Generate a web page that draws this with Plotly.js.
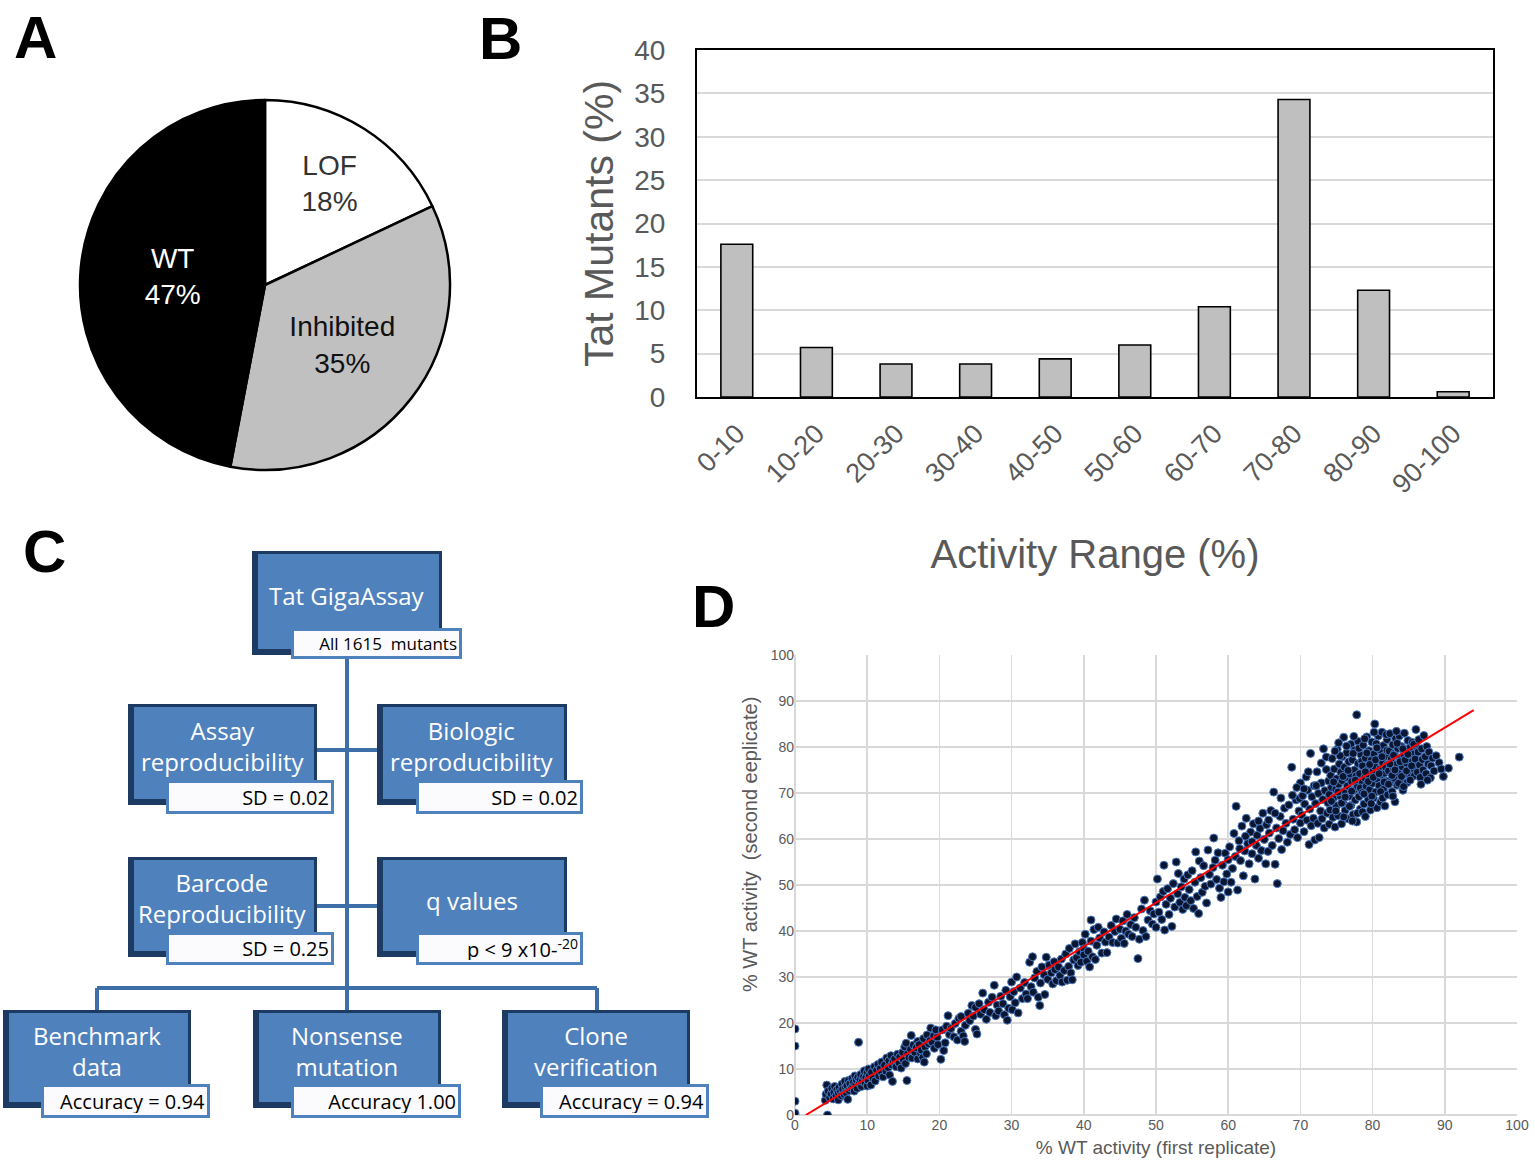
<!DOCTYPE html>
<html>
<head>
<meta charset="utf-8">
<script src="https://cdn.plot.ly/plotly-3.0.1.min.js"></script>
<style>
  html, body { margin: 0; padding: 0; background: #fff; }
  #plot { width: 1535px; height: 1169px; }
</style>
</head>
<body>
<div id="plot"></div>
<script>
// Panel A - mutant classes (%)
const pieLabels = ['LOF', 'Inhibited', 'WT'];
const pieValues = [18, 35, 47];

// Panel B - distribution of activity
const activityRanges = ['0-10', '10-20', '20-30', '30-40', '40-50', '50-60', '60-70', '70-80', '80-90', '90-100'];
const mutantPercent = [17.6, 5.7, 3.8, 3.8, 4.4, 6.0, 10.4, 34.3, 12.3, 0.6];

// Panel C - validation tree
const nodeTitles = ['Tat GigaAssay', 'Assay<br>reproducibility', 'Biologic<br>reproducibility',
  'Barcode<br>Reproducibility', 'q values', 'Benchmark<br>data', 'Nonsense<br>mutation', 'Clone<br>verification'];
const nodeNotes = ['All 1615  mutants', 'SD = 0.02', 'SD = 0.02', 'SD = 0.25', 'p < 9 x10-<sup>-20</sup>',
  'Accuracy = 0.94', 'Accuracy 1.00', 'Accuracy = 0.94'];

// Panel D - replicate 1 vs replicate 2 (% WT activity)
const replicatePairs = [
  [0,0],[0,0.4],[0,3],[0,15],[0,18.7],[4.5,0],[8.8,15.8],
  [4.2,3.2],[4.3,4.5],[4.4,6.5],[4.6,5.2],[4.8,3.8],[5,4.6],[5.1,5.8],[5.3,3.5],[5.4,4.9],[5.5,6.2],
  [5.7,4.2],[5.8,5.5],[6,3.3],[6,4.8],[6.1,6],[6.3,5.1],[6.4,4.2],[6.5,6.7],[6.6,5.6],[6.8,4.5],
  [6.9,7.3],[7,5.9],[7.1,4.8],[7.2,6.4],[7.3,3.4],[7.4,7.5],[7.5,5.3],[7.6,6.8],[7.8,5.8],[7.9,7.9],
  [8,6.3],[8.1,7.1],[8.2,5.2],[8.3,8.5],[8.4,6.7],[8.5,7.6],[8.6,5.8],[8.7,8.2],[8.9,6.9],[9,7.7],
  [9.1,8.8],[9.2,6.2],[9.3,7.3],[9.5,8.4],[9.6,9.6],[9.7,7],[9.8,8.1],[10,9.2],[10,6.3],[10.1,7.6],
  [10.2,10],[10.3,8.6],
  [10.5,6.5],[10.6,9.3],[10.8,8],[11,10.5],[11.1,7.4],[11.3,9.7],[11.5,11],[11.6,8.5],[11.8,10.1],
  [12,9.2],[12,11.5],[12.2,8.3],[12.4,10.8],[12.6,9.5],[12.7,12.4],[12.9,10.3],[13,11.8],[13.1,8.7],
  [13.3,12.9],[13.4,10.9],[13.5,7.3],[13.6,11.6],[13.8,12.2],[14,10.5],[14.2,13.2],[14.4,11.3],
  [14.5,12.6],[14.7,10.2],[14.9,13.6],[15,12],[15.2,14.8],[15.3,11.2],[15.4,15.6],[15.5,7.5],
  [15.6,13.3],[15.8,12.5],[16,14.3],[16.1,17.3],[16.2,12.4],[16.4,15.2],[16.6,13.6],[16.8,14.6],
  [17,12.2],[17,16],[17.2,15.3],[17.4,13.4],[17.5,14.1],[17.7,12.5],[17.8,16.6],[17.9,11.5],
  [18,14.8],[18.2,13.3],[18.3,17.4],[18.5,15.5],[18.7,16.2],[18.8,18.9],[19,15.8],[19.2,17.2],
  [19.3,14.5],[19.5,18.5],[19.7,16.9],[19.8,15.3],
  [20.2,12.1],[20.4,18.5],[20.6,14],[20.8,15.7],[21,19.3],[21.2,21.6],[21.4,17.5],[21.6,18.8],
  [22,17],[22.2,19.9],[22.5,16.3],[22.7,21],[23,18.2],[23,21.4],[23.3,17.2],[23.5,16],[23.6,19.5],
  [24,22.1],[24.2,20.5],[24.5,23.8],[24.7,21.5],[25,18.6],[25,23.4],[25.2,17.6],[25.5,24.2],
  [25.7,21.9],[26,26.5],[26.2,22.9],[26.5,20.8],[26.8,24.5],[27,22.3],[27.3,25.6],[27.6,28.2],
  [27.8,21.6],[28,23.9],[28.2,22.6],[28.5,25.8],[28.8,24.2],[29,21.8],[29.2,27.1],[29.4,20.6],
  [29.6,23.2],[29.8,25.7],[30,28.9],[30.1,22.9],
  [30.3,26.8],[30.5,24.4],[30.7,30],[30.9,22.2],[31.2,27.6],[31.5,25.3],[31.8,28.8],[32,26.3],
  [32.2,25.3],[32.5,33.2],[32.7,27.9],[32.9,34.4],[33,26.7],[33.2,29.8],[33.5,31.2],[33.7,25.6],
  [33.9,23.8],[34,28.7],[34.2,32.2],[34.5,30.5],[34.6,26.2],[34.8,34.3],[35,29.5],[35.2,32.6],
  [35.5,30.9],[35.7,28.5],[35.9,33.3],[36,31.6],[36.2,29.2],[36.5,32.2],[36.7,30.3],[36.9,33.9],
  [37,28.9],[37.3,31.4],[37.5,35],[37.7,29.3],[37.9,32.3],[38,36.2],[38.2,30.9],[38.4,29.4],
  [38.6,33.7],[38.8,37.2],[39,34.2],[39.2,32.5],[39.4,35.5],[39.6,33.2],[39.8,37.5],[40,36.1],
  [40,34.8],
  [40.2,39.3],[40.4,33.4],[40.6,35.6],[40.8,32.2],[41,42.4],[41,37.8],[41.2,34.4],[41.4,40.3],
  [41.6,33.8],[41.8,36.9],[42,40.8],[42.2,38.5],[42.5,35.2],[42.8,39.8],[43,37.6],[43.2,35.3],
  [43.5,38.7],[43.8,41.2],[44,37.5],[44.3,39.9],[44.5,42.6],[44.7,37.4],[45,40.4],[45.2,38.4],
  [45.4,42.2],[45.6,37.3],[45.8,40],[46,43.6],[46.2,39.3],[46.5,41.4],[46.7,38.8],[47,42.9],
  [47.2,40.8],[47.5,34],[47.7,38.2],[48,44.8],[48.2,40.1],[48.4,46.7],[48.6,38.8],[48.9,42.4],
  [49.2,44.4],[49.5,41.5],[49.7,43.7],[50,46.3],[50,40.8],[50.2,51.3],
  [50.4,44.1],[50.6,47.4],[50.8,42.5],[51,48.6],[51.1,54.3],[51.2,40.2],[51.4,45.8],[51.6,49.2],
  [51.8,43.6],[52,47.1],[52.2,41],[52.4,50.3],[52.6,45.2],[52.8,55],[53,48.1],[53.1,52.5],
  [53.3,46.2],[53.5,49.6],[53.7,44.7],[53.9,51.3],[54,47.3],[54.2,45.5],[54.4,52.2],[54.6,49],
  [54.8,46.6],[55,53.1],[55.2,44.9],[55.4,50.6],[55.5,57.2],[55.7,47.5],[55.9,43.8],[56,55.2],
  [56.2,51.6],[56.4,48.4],[56.6,54.2],[56.8,49.7],[57,46.1],[57.2,57.6],[57.4,52.3],[57.6,50.2],
  [57.9,53.8],[58,60.2],[58.2,55.4],[58.4,51.2],[58.6,57],[58.8,49.3],[59,47.3],[59.2,54.3],
  [59.4,50.7],[59.6,56.9],[59.8,52.4],[60,55.5],[60,48.5],
  [60.2,58.3],[60.4,50.6],[60.6,53.6],[60.8,61.2],[61,56.2],[61.1,67.1],[61.3,48.9],[61.5,59.6],
  [61.7,55.3],[61.9,62.8],[62.1,52],[62.3,57.4],[62.5,64.5],[62.7,59],[62.9,54.6],[63.1,61.5],
  [63.3,56.8],[63.5,63.3],[63.7,51.3],[63.9,58.6],[64,60.8],[64.2,55.8],[64.4,62.3],[64.6,57.5],
  [64.8,65.6],[65,59.9],[65.2,54.6],[65.3,63.1],[65.5,57.3],[65.7,61.3],[65.9,66.2],[66.1,58.6],
  [66.3,70.2],[66.5,54.5],[66.7,62.4],[66.8,50.3],[67,60.1],[67.2,64.9],[67.4,57.7],[67.6,61.8],
  [67.8,66.7],[68,63.4],[68.2,59.3],[68.4,67.4],[68.6,61],[68.8,75.6],[69,64.3],[69.2,62],
  [69.4,68.5],[69.6,60.3],[69.8,66.1],[70,72.2],[70,63.5],
  [61.6,57.9],[62.4,60.6],[63.3,59.4],[64.2,63.9],[65.6,64.1],[66.5,65.6],[67.3,68.9],[68.9,69.5],
  [69.9,68.8],[69.5,71.2],
  [70.2,65.2],[70.3,69.4],[70.5,61.6],[70.6,67.6],[70.8,73.5],[70.9,64.1],[71,70.6],[71.2,58.8],
  [71.3,66.5],[71.4,78.6],[71.5,62.9],[71.6,69.2],[71.8,64.5],[71.9,71.6],[72,59.8],[72.1,67.7],
  [72.3,74.6],[72.4,63.4],[72.5,69.9],[72.6,60.3],[72.8,66.1],[72.9,72.2],[73,64.4],[73.1,68.6],
  [73.2,79.6],[73.3,62.4],[73.4,70.5],[73.6,75.1],[73.7,65.6],[73.8,67.9],[73.9,72.6],[74,63.2],
  [74,69.7],[70.5,70.9],[71.1,74.6],[72.2,71.6],[72.9,76.5],[73.6,77.8],
  [74.1,66.3],[74.2,73.8],[74.3,71.2],[74.4,77.5],[74.5,64.7],[74.6,68.9],[74.7,75.2],[74.8,62.6],
  [74.9,70.8],[75,73.1],[75,67.2],[75.1,79.5],[75.2,65.1],[75.3,71.9],[75.4,76.3],[75.5,69.4],
  [75.6,74.5],[75.7,63.3],[75.8,72.7],[75.8,77.9],[75.9,68],[76,82.1],[76,70.3],[76.1,75.6],
  [76.2,66.2],[76.3,73.4],[76.4,78.7],[76.5,71.5],[76.6,64.4],[76.7,76.8],[76.8,69.3],[76.9,74.1],
  [77,67.3],[77,80.6],[77.1,72.5],[77.2,77.2],[77.3,65.3],[77.4,70.6],[77.5,75],[77.5,79.3],
  [77.6,68.5],[77.7,73.7],[77.8,87],[77.8,63.7],[77.9,71.4],[78,76.4],[78,81.2],[78.1,69.2],
  [78.2,74.2],[78.3,66.5],[78.4,78.3],[78.5,72.3],
  [74.3,68.2],[74.6,72.4],[74.9,66.1],[75.2,70.2],[75.5,78.1],[75.7,67.8],[75.9,73.6],[76.2,69.1],
  [76.4,80.2],[76.6,74.9],[76.8,67.1],[77.1,70.4],[77.3,78.6],[77.6,72.8],[77.9,65.6],[78.1,79.7],
  [78.3,71.1],[78.5,76.9],[74.8,79.1],[75.3,80.9],[77.4,82.3],[76,64.8],[77.2,63.9],[78.6,65.9],
  [78.6,75.9],[78.6,70.1],[78.7,80.4],[78.8,67.6],[78.9,73.3],[79,77.6],[79,64.9],[79.1,71.5],
  [79.2,82.2],[79.3,75],[79.4,68.6],[79.5,79.2],[79.5,73.9],[79.6,70.7],[79.7,66.3],[79.8,77.1],
  [79.9,81.1],[80,74.6],[80,72.1],[80.1,68.9],[80.2,78.5],[80.3,85],[80.3,75.8],[80.4,70.2],
  [80.5,80.7],[80.6,73.1],[80.6,66.8],[80.7,77.3],[80.8,82.4],[80.9,71.6],[81,75.2],[81,79.4],
  [81.1,68],[81.2,73.9],[81.3,83.2],[81.4,76.6],[81.5,70.8],[81.5,80.3],[81.6,74.3],[81.7,67.2],
  [81.8,78],[81.9,72.6],[82,81.6],[82,76.1],
  [78.8,69.8],[79,74.6],[79.2,78.7],[79.4,72.5],[79.6,76.2],[79.9,69.3],[80.1,73.4],[80.4,77.2],
  [80.6,79.8],[80.9,74.2],[81.1,70.3],[81.3,77.9],[81.6,72.4],[81.8,75.6],[82,79.3],[78.9,81.8],
  [80.2,83.2],[81.9,82.7],[79.8,67.7],[81.4,68.9],
  [82.1,69.6],[82.2,74.8],[82.3,79.1],[82.4,82.9],[82.5,72.3],[82.6,77.4],[82.7,70.3],[82.8,80.5],
  [82.9,75.3],[83,73.2],[83,78.6],[83.1,68.1],[83.2,81.8],[83.3,76.2],[83.4,71.7],[83.5,79.7],
  [83.6,74.4],[83.7,82.4],[83.8,77.5],[83.9,72.8],[84,80.1],[84.1,75.7],[84.2,70.6],[84.3,78.3],
  [84.4,83],[84.5,74.2],[84.6,79.2],[84.7,76.5],[84.8,72.3],[84.9,81.4],[85,77.8],[85.1,74.9],
  [85.2,79.9],[85.3,73.5],[85.4,76.8],[85.5,81],[85.6,75.3],[85.7,78.5],[85.8,73.8],[86,80.2],
  [86,83.8],[86,76.7],
  [82.2,71.9],[82.4,76.3],[82.7,73.8],[82.9,78.2],[83.1,75],[83.4,80.8],[83.6,72.1],[83.8,76.8],
  [84,73.6],[84.2,79.6],[84.5,77.2],[84.7,74.8],[84.9,78.4],[85.2,72.8],[85.4,75.9],[85.7,80.6],
  [85.9,77.4],[82.8,69.3],[84.3,71.4],[83.3,83.4],
  [86.2,74.5],[86.3,78.9],[86.4,81.6],[86.5,76.1],[86.6,73.4],[86.8,79.6],[86.9,77.3],[87,75],
  [87.1,82.5],[87.3,77.9],[87.4,74.2],[87.5,80.1],[87.7,76.3],[87.8,78.9],[88,73.3],[88.1,75.9],
  [88.3,77.6],[88.5,74.8],[88.8,78.1],[89.2,76.6],[89.5,75.2],[89.8,73.6],[90.5,75.4],[92,77.8],
  [86.7,71.9],[87.6,72.8]
];
// fitted trend line (end points)
const trendX = [1.5, 94];
const trendY = [0, 88];

// ---- geometry of the validation tree, in figure pixels ----
// [x0, x1, y0, y1] of each blue box and its white note box, plus the title centre y
const boxRects = [[252,442,551,655],[128,317,704,805],[377,567,704,805],[128,317,857,957],
  [377,567,857,957],[3,191,1010,1108],[253,441,1010,1108],[502,690,1010,1108]];
const noteRects = [[291,462,628,659],[166,334,780,814],[416,583,780,814],[166,334,932,965],
  [416,583,932,965],[41,210,1084,1118],[291,461,1084,1118],[540,709,1084,1118]];
const titleY = [595, 746, 746, 898, 900, 1051, 1051, 1051];
const links = [[347,657,347,1010],[317,750,377,750],[317,906,377,906],[97,988,597,988],
  [97,988,97,1010],[597,988,597,1010]];

const GREY = '#595959';
const ARIAL = 'Liberation Sans, Arial, sans-serif';
const CALIBRI = 'Open Sans, Noto Sans, sans-serif';

const traces = [
  {
    type: 'pie', labels: pieLabels, values: pieValues, sort: false, direction: 'clockwise',
    domain: {x: [80/1535, 450/1535], y: [1 - 470/1169, 1 - 100/1169]},
    marker: {colors: ['#ffffff', '#c0c0c0', '#000000'], line: {color: '#000', width: 2.5}},
    texttemplate: '%{label}<br>%{value}%', textposition: 'inside', insidetextorientation: 'horizontal',
    textfont: {family: ARIAL, size: 28, color: ['#333333', '#111111', '#ffffff']},
    hoverinfo: 'skip'
  },
  {
    type: 'bar', x: activityRanges, y: mutantPercent, xaxis: 'x', yaxis: 'y', width: 0.4,
    marker: {color: '#bfbfbf', line: {color: '#000', width: 1.6}}, hoverinfo: 'skip'
  },
  {
    type: 'scatter', mode: 'markers', xaxis: 'x2', yaxis: 'y2',
    x: replicatePairs.map(p => p[0]), y: replicatePairs.map(p => p[1]),
    marker: {size: 8, color: '#0a1630', line: {color: '#4a78c0', width: 1}}, hoverinfo: 'skip'
  },
  {
    type: 'scatter', mode: 'lines', xaxis: 'x2', yaxis: 'y2', x: trendX, y: trendY,
    line: {color: '#ff0000', width: 2}, hoverinfo: 'skip'
  },
  {type: 'scatter', mode: 'markers', x: [0], y: [0], xaxis: 'x3', yaxis: 'y3',
    marker: {size: 1, opacity: 0}, hoverinfo: 'skip'}
];

const shapes = [];
const annotations = [];

// connectors first so the boxes sit on top of them
links.forEach(l => shapes.push({type: 'line', xref: 'x3', yref: 'y3', x0: l[0], y0: l[1], x1: l[2], y1: l[3],
  line: {color: '#3d6ea8', width: 4}}));

boxRects.forEach((r, i) => {
  shapes.push({type: 'rect', xref: 'x3', yref: 'y3', x0: r[0], x1: r[1], y0: r[2], y1: r[3],
    fillcolor: '#1d3a62', line: {width: 0}});
  shapes.push({type: 'rect', xref: 'x3', yref: 'y3', x0: r[0] + 6, x1: r[1] - 3, y0: r[2] + 3, y1: r[3] - 6,
    fillcolor: '#4f81bd', line: {width: 0}});
  annotations.push({xref: 'x3', yref: 'y3', x: (r[0] + r[1]) / 2, y: titleY[i], text: nodeTitles[i],
    showarrow: false, xanchor: 'center', yanchor: 'middle',
    font: {family: CALIBRI, size: 24, color: '#ffffff'}});
  const n = noteRects[i];
  annotations.push({xref: 'x3', yref: 'y3', x: (n[0] + n[1]) / 2, y: (n[2] + n[3]) / 2, text: nodeNotes[i],
    showarrow: false, xanchor: 'center', yanchor: 'middle', align: 'right', valign: 'middle',
    width: n[1] - n[0] - 10, height: n[3] - n[2] - 10, borderpad: 2, borderwidth: 3,
    bordercolor: '#4f81bd', bgcolor: '#fbfbfd',
    font: {family: CALIBRI, size: i === 0 ? 17 : 20, color: '#000'}});
});

// panel letters
[['A', 35, 37], ['B', 500, 38], ['C', 44, 551], ['D', 713, 606]].forEach(p => annotations.push({
  xref: 'x3', yref: 'y3', x: p[1], y: p[2], text: '<b>' + p[0] + '</b>', showarrow: false,
  xanchor: 'center', yanchor: 'middle', font: {family: ARIAL, size: 60, color: '#000'}}));

// y title of panel D sits above the axis centre in the original
annotations.push({xref: 'x3', yref: 'y3', x: 750, y: 845, text: '% WT activity  (second eeplicate)',
  textangle: -90, showarrow: false, xanchor: 'center', yanchor: 'middle',
  font: {family: ARIAL, size: 20, color: GREY}});

const layout = {
  width: 1535, height: 1169, margin: {l: 0, r: 0, t: 0, b: 0},
  paper_bgcolor: '#ffffff', plot_bgcolor: 'rgba(0,0,0,0)', showlegend: false,
  font: {family: ARIAL, color: GREY},
  xaxis: {
    domain: [697/1535, 1493/1535], anchor: 'y', type: 'category', tickangle: -45,
    tickfont: {size: 27, color: GREY}, showline: true, mirror: true, linecolor: '#000', linewidth: 2,
    ticks: '', ticklabelstandoff: 8,
    title: {text: 'Activity Range (%)', font: {size: 40, color: GREY}, standoff: 42},
    automargin: false, fixedrange: true
  },
  yaxis: {
    domain: [1 - 397/1169, 1 - 50/1169], anchor: 'x', range: [0, 40], dtick: 5,
    tickfont: {size: 28, color: GREY}, showgrid: true, gridcolor: '#d9d9d9', gridwidth: 2,
    showline: true, mirror: true, linecolor: '#000', linewidth: 2, zeroline: false,
    ticklabelstandoff: 24, title: {text: 'Tat Mutants (%)', font: {size: 41, color: GREY}, standoff: 8},
    automargin: false, fixedrange: true
  },
  xaxis2: {
    domain: [795/1535, 1517/1535], anchor: 'y2', range: [0, 100], dtick: 10,
    tickfont: {size: 14, color: GREY}, showgrid: true, gridcolor: '#d9d9d9', gridwidth: 1.5,
    zeroline: true, zerolinecolor: '#d9d9d9', zerolinewidth: 1.5, showline: false,
    title: {text: '% WT activity (first replicate)', font: {size: 19, color: GREY}, standoff: 8},
    automargin: false, fixedrange: true
  },
  yaxis2: {
    domain: [1 - 1115/1169, 1 - 655/1169], anchor: 'x2', range: [0, 100], dtick: 10,
    tickfont: {size: 14, color: GREY}, showgrid: true, gridcolor: '#d9d9d9', gridwidth: 1.5,
    zeroline: true, zerolinecolor: '#d9d9d9', zerolinewidth: 1.5, showline: false,
    automargin: false, fixedrange: true
  },
  xaxis3: {domain: [0, 1], anchor: 'y3', range: [0, 1535], visible: false, fixedrange: true},
  yaxis3: {domain: [0, 1], anchor: 'x3', range: [1169, 0], visible: false, fixedrange: true},
  shapes: shapes,
  annotations: annotations
};

Plotly.newPlot('plot', traces, layout, {displayModeBar: false, staticPlot: true});
</script>
</body>
</html>
